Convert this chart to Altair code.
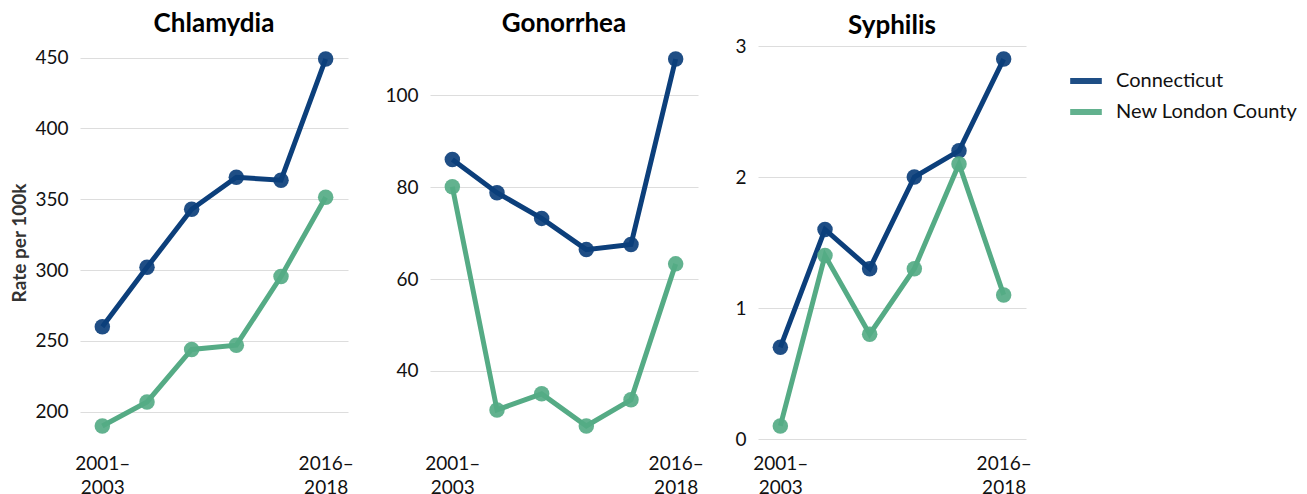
import altair as alt
import pandas as pd

periods = ["2001–2003", "2004–2006", "2007–2009", "2010–2012", "2013–2015", "2016–2018"]
locations = ["Connecticut", "New London County"]
diseases = ["Chlamydia", "Gonorrhea", "Syphilis"]

chlamydia_ct = [260, 302, 343, 365.5, 363.5, 449]
chlamydia_nl = [190, 207, 244, 247, 295.5, 351.5]
gonorrhea_ct = [86.0, 78.8, 73.2, 66.4, 67.5, 107.9]
gonorrhea_nl = [80.1, 31.5, 35.0, 28.0, 33.7, 63.3]
syphilis_ct = [0.7, 1.6, 1.3, 2.0, 2.2, 2.9]
syphilis_nl = [0.1, 1.4, 0.8, 1.3, 2.1, 1.1]

y_ticks = {
    "Chlamydia": [200, 250, 300, 350, 400, 450],
    "Gonorrhea": [40, 60, 80, 100],
    "Syphilis": [0, 1, 2, 3],
}

series = {
    ("Chlamydia", "Connecticut"): chlamydia_ct,
    ("Chlamydia", "New London County"): chlamydia_nl,
    ("Gonorrhea", "Connecticut"): gonorrhea_ct,
    ("Gonorrhea", "New London County"): gonorrhea_nl,
    ("Syphilis", "Connecticut"): syphilis_ct,
    ("Syphilis", "New London County"): syphilis_nl,
}

rows = []
for (d, loc), vals in series.items():
    for p, v in zip(periods, vals):
        rows.append({"disease": d, "location": loc, "period": p, "rate": v})
df = pd.DataFrame(rows)

FONT = "Source Sans Pro, Lato, sans-serif"
colors = ["#0c3f7b", "#55ab85"]

label_expr = ("datum.value == '%s' || datum.value == '%s' ? "
              "[slice(datum.value, 0, 5), slice(datum.value, 5)] : ''") % (periods[0], periods[-1])


def panel(disease, first):
    base = alt.Chart(df).transform_filter(alt.datum.disease == disease)
    x = alt.X("period:O", sort=periods, scale=alt.Scale(type="point", padding=0.5),
              axis=alt.Axis(title=None, labelAngle=0, labelExpr=label_expr, ticks=False,
                            domain=False, grid=False, labelPadding=15, labelFontSize=19,
                            labelLineHeight=24))
    if disease == "Syphilis":
        yscale = alt.Scale(zero=False, nice=False, domain=[0, 3])
    else:
        yscale = alt.Scale(zero=False, nice=False, padding=13)
    y = alt.Y("rate:Q", scale=yscale,
              axis=alt.Axis(title="Rate per 100k" if first else None, values=y_ticks[disease],
                            ticks=False, domain=False, labelPadding=12, labelFontSize=19,
                            titleFontSize=19, titleFontWeight="bold", titlePadding=5,
                            gridColor="#dddddd"))
    color = alt.Color("location:N", scale=alt.Scale(domain=locations, range=colors),
                      legend=alt.Legend(title=None, symbolType="stroke", symbolStrokeWidth=6,
                                        symbolSize=1000, labelFontSize=20, rowPadding=0,
                                        offset=19, padding=16, labelOffset=11, labelLimit=0))
    line = base.mark_line(strokeWidth=5).encode(x=x, y=y, color=color)
    pts = base.mark_circle(size=240, opacity=0.92).encode(x=x, y=y, color=color)
    return alt.layer(line, pts).properties(
        width=268, height=393,
        title=alt.TitleParams(disease, fontSize=26, fontWeight="bold", font=FONT,
                              offset=-2 if disease == "Syphilis" else 9)
    )


chart = alt.hconcat(*[panel(d, i == 0) for i, d in enumerate(diseases)], spacing=30).resolve_scale(
    y="independent"
).properties(
    padding={"top": 3, "left": 2, "right": -16, "bottom": 0}
).configure(font=FONT).configure_view(stroke=None).configure_axis(
    labelFont=FONT, titleFont=FONT, labelColor="#111111", titleColor="#333333"
).configure_legend(labelFont=FONT, labelColor="#111111")

chart.save("out.html", embed_options={"renderer": "svg", "actions": False})
